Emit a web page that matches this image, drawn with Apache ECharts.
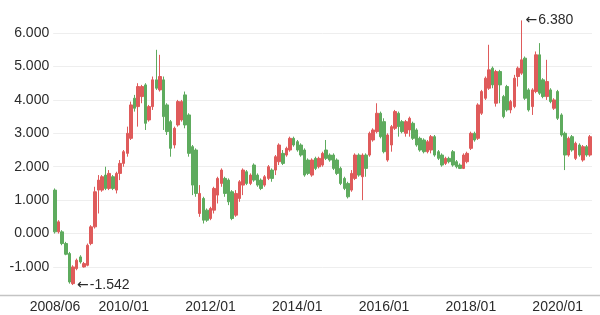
<!DOCTYPE html>
<html>
<head>
<meta charset="utf-8">
<script src="https://cdn.jsdelivr.net/npm/echarts@6/dist/echarts.min.js"></script>
<style>html,body{margin:0;padding:0;background:#fff}#c{width:600px;height:315px}</style>
</head>
<body>
<div id="c"></div>
<script>
// Monthly categories 2008/06 .. 2020/10
const categories = [];
for (let y = 2008, m = 6; y < 2020 || (y === 2020 && m <= 10); ) {
  categories.push(y + '/' + String(m).padStart(2, '0'));
  m++; if (m > 12) { m = 1; y++; }
}
const opens = [1.30,0.05,0.05,-0.30,-0.60,-1.50,-1.05,-0.70,-1.00,-0.95,-0.30,0.20,1.30,1.30,1.75,1.35,1.70,1.30,1.80,2.10,
2.40,2.85,4.05,3.80,4.10,4.45,3.40,3.80,4.60,4.30,4.60,3.85,3.35,2.65,3.25,3.40,4.15,3.55,2.60,2.50,
0.60,1.05,0.70,0.45,0.70,1.15,1.50,1.65,1.60,1.25,0.55,1.05,1.45,1.85,1.50,2.05,1.75,1.60,1.45,1.65,
1.90,1.90,2.15,2.40,2.35,2.50,2.85,2.75,2.65,2.50,2.20,1.75,2.25,2.00,2.05,2.50,2.35,2.35,2.20,1.95,
1.65,1.50,1.30,1.65,2.35,1.70,2.35,2.35,2.80,3.05,3.60,3.35,2.20,2.65,3.15,3.60,3.35,3.00,3.10,3.30,
3.10,2.85,2.80,2.45,2.50,2.90,2.45,2.35,2.10,2.25,2.45,2.15,2.05,1.95,2.15,2.55,3.00,2.85,3.60,4.05,
4.35,4.95,3.90,4.85,4.10,4.40,3.70,3.80,4.70,4.80,5.25,4.30,3.80,4.25,5.35,4.60,4.10,4.30,3.75,4.25,
3.55,3.00,2.35,2.90,2.25,2.65,2.20,2.60,2.35];
const closes = [0.05,0.35,-0.30,-0.62,-1.45,-1.00,-0.80,-0.85,-0.90,-0.35,0.20,1.25,1.60,1.70,1.35,1.80,1.35,1.80,2.10,2.45,
3.00,3.85,3.75,4.40,4.40,3.30,3.80,4.60,4.35,4.70,3.50,3.05,2.55,3.15,3.95,3.95,3.25,2.40,1.45,1.20,
1.20,0.40,0.40,0.75,1.35,1.65,1.90,1.20,0.95,0.45,1.20,1.55,1.90,1.50,1.75,1.60,1.45,1.35,1.70,2.00,
1.65,2.30,2.65,2.10,2.55,2.85,2.65,2.50,2.35,1.75,1.80,2.20,1.95,2.25,2.40,2.25,2.20,1.95,1.80,1.50,
1.35,1.10,1.80,2.35,1.75,2.35,1.95,3.00,3.10,3.60,2.90,2.45,2.95,3.20,3.65,3.20,3.05,3.35,3.45,2.85,
2.65,2.50,2.45,2.75,2.90,2.35,2.25,2.05,2.25,2.15,2.05,2.00,1.95,2.35,2.40,3.00,2.80,3.85,4.25,4.65,
4.90,4.45,4.85,4.45,3.50,3.70,3.95,4.65,4.95,5.20,4.05,3.70,4.30,5.35,4.20,4.10,4.55,3.95,4.00,3.45,
2.95,2.35,2.85,2.50,2.70,2.35,2.60,2.35,2.90];
const lows = [0.00,0.00,-0.35,-0.65,-1.50,-1.542,-1.10,-0.90,-1.02,-0.98,-0.35,0.15,0.60,1.25,1.30,1.30,1.30,1.20,1.60,2.00,
2.30,2.80,3.65,3.20,3.90,3.10,3.35,3.70,4.30,4.25,3.10,2.95,2.30,2.55,3.20,3.35,3.15,2.30,1.15,1.10,
0.50,0.30,0.35,0.40,0.60,0.90,1.40,1.10,0.85,0.40,0.50,0.95,1.15,1.45,1.45,1.55,1.40,1.30,1.40,1.60,
1.55,1.75,2.05,2.05,2.30,2.45,2.60,2.45,2.30,1.70,1.75,1.70,1.90,1.95,2.00,2.20,2.15,1.90,1.75,1.45,
1.30,1.05,1.25,1.60,1.70,1.00,1.70,2.30,2.75,3.00,2.85,2.40,2.15,2.45,3.10,2.90,3.00,2.90,2.90,2.80,
2.60,2.45,2.40,2.40,2.40,2.30,2.20,2.00,2.05,2.10,2.00,1.95,1.93,1.93,2.10,2.50,2.75,2.80,3.55,4.00,
4.30,4.35,3.80,3.90,3.45,3.65,3.60,3.75,4.40,4.75,4.00,3.65,3.55,4.20,4.15,4.05,4.00,3.90,3.70,3.40,
2.90,1.90,2.30,2.45,2.20,2.30,2.15,2.30,2.30];
const highs = [1.35,0.40,0.10,-0.25,-0.55,-0.95,-0.75,-0.65,-0.85,-0.30,0.25,1.40,1.75,1.75,2.00,1.90,1.75,1.85,2.20,2.50,
3.20,3.95,4.15,4.50,4.45,4.50,3.85,4.70,5.50,5.35,4.70,3.90,3.40,3.20,4.00,4.00,4.25,3.60,2.65,2.55,
1.45,1.10,0.75,0.80,1.40,1.70,1.95,1.70,1.65,1.30,1.30,1.60,1.95,1.90,1.80,2.10,1.80,1.65,1.75,2.05,
1.95,2.35,2.70,2.50,2.60,2.90,2.90,2.80,2.70,2.55,2.25,2.25,2.30,2.30,2.45,2.80,2.40,2.40,2.25,2.00,
1.70,1.55,1.90,2.40,2.40,2.40,2.40,3.05,3.15,3.90,3.65,3.45,3.00,3.25,3.70,3.65,3.40,3.40,3.50,3.35,
3.15,2.90,2.85,2.80,2.95,2.95,2.50,2.40,2.30,2.30,2.50,2.20,2.10,2.40,2.45,3.05,3.05,3.90,4.30,4.70,
5.65,5.00,4.90,4.90,4.15,4.45,4.00,4.75,5.00,6.38,5.30,4.35,4.35,5.45,5.70,4.65,5.20,4.35,4.05,4.30,
3.60,3.05,2.90,2.95,2.75,2.70,2.65,2.65,2.95];
const yTickLabels = ['-1.000','0.000','1.000','2.000','3.000','4.000','5.000','6.000'];

const candleData = opens.map((o, i) => [o, closes[i], lows[i], highs[i]]);
const shownX = new Set(['2008/06','2010/01','2012/01','2014/01','2016/01','2018/01','2020/01']);
const FONT = '"Liberation Sans", Arial, Helvetica, sans-serif';
const RED = '#df5b5b', GREEN = '#5eab5e';

const chart = echarts.init(document.getElementById('c'), null, {renderer: 'canvas'});
chart.setOption({
  animation: false,
  backgroundColor: '#fff',
  grid: {left: 53.2, right: 8, top: 13.06, bottom: 20},
  xAxis: {
    type: 'category',
    data: categories,
    boundaryGap: true,
    axisLine: {show: false},
    axisTick: {show: false},
    splitLine: {show: false},
    axisLabel: {
      interval: (idx, val) => shownX.has(val),
      color: '#2b2b2b', fontSize: 14, fontFamily: FONT, margin: 5
    }
  },
  yAxis: {
    type: 'value',
    min: -1.84, max: 6.6, splitNumber: 8, scale: false,
    axisLine: {show: false},
    axisTick: {show: false},
    axisLabel: {
      showMinLabel: false, showMaxLabel: false,
      color: '#2b2b2b', fontSize: 14, fontFamily: FONT, margin: 4,
      formatter: v => { const s = v.toFixed(3); return yTickLabels.includes(s) ? s : ''; }
    },
    splitLine: {show: true, showMinLine: false, showMaxLine: false, lineStyle: {color: '#eeeeee', width: 1}}
  },
  graphic: [{
    type: 'line', silent: true, z: 100,
    shape: {x1: 0, y1: 295.5, x2: 600, y2: 295.5},
    style: {stroke: '#c4c4c4', lineWidth: 1.5}
  }],
  series: [{
    type: 'candlestick',
    data: candleData,
    barWidth: 3,
    itemStyle: {color: RED, color0: GREEN, borderColor: RED, borderColor0: GREEN, borderWidth: 1},
    markPoint: {
      symbol: 'circle', symbolSize: 0,
      label: {
        show: true, position: 'right', distance: 4,
        color: '#2b2b2b', fontSize: 14, fontFamily: FONT,
        formatter: p => '{a|\u2190}{v|' + Number(p.value).toFixed(3) + '}',
        rich: {
          a: {fontFamily: '"DejaVu Sans", sans-serif', fontSize: 14, color: '#2b2b2b', padding: [0, 1, 0, 0]},
          v: {fontFamily: FONT, fontSize: 14, color: '#2b2b2b'}
        }
      },
      data: [
        {type: 'max', valueDim: 'highest'},
        {type: 'min', valueDim: 'lowest'}
      ]
    }
  }]
});
</script>
</body>
</html>
